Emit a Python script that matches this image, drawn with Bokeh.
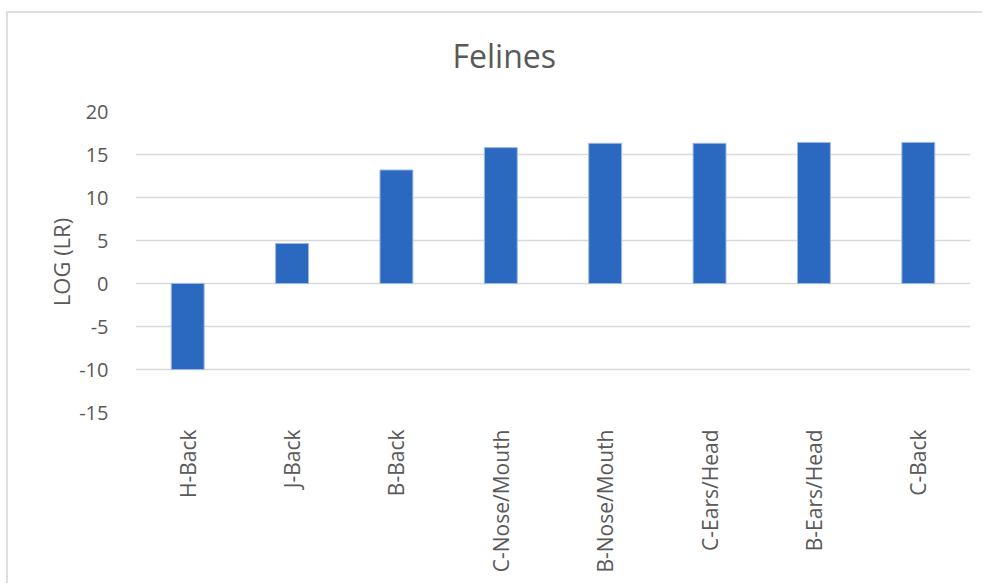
import math

from bokeh.embed import file_html
from bokeh.models import FixedTicker, Title
from bokeh.plotting import figure
from bokeh.resources import INLINE

# Samples and their log likelihood ratios
samples = ["H-Back", "J-Back", "B-Back", "C-Nose/Mouth", "B-Nose/Mouth",
           "C-Ears/Head", "B-Ears/Head", "C-Back"]
log_lr = [-10.0, 4.65, 13.2, 15.8, 16.3, 16.3, 16.4, 16.4]
y_ticks = [-15, -10, -5, 0, 5, 10, 15, 20]

TEXT = "#595959"
FONT = "Open Sans"

p = figure(
    x_range=samples, y_range=(-15, 20),
    width=976, height=572,
    output_backend="svg", toolbar_location=None,
    min_border_left=127, min_border_right=14,
    min_border_top=98, min_border_bottom=173,
    background_fill_color="white", border_fill_color="white",
    outline_line_color=None,
)
p.margin = (11, 0, 0, 6)
p.styles = {"border-top": "2px solid #dedede", "border-left": "2px solid #dedede"}

p.vbar(x=samples, top=log_lr, bottom=0, width=0.315,
       fill_color="#2B68BF", line_color="#9db8e3", line_width=1)

# Chart title, with a blank spacer between it and the plot area
p.add_layout(Title(text=" ", text_font_size="12px", standoff=14), "above")
p.title.text = "Felines"
p.title.align = "left"
p.title.offset = 317
p.title.standoff = 10
p.title.text_font = FONT
p.title.text_font_size = "32px"
p.title.text_font_style = "normal"
p.title.text_color = TEXT

# Axes
p.yaxis.ticker = FixedTicker(ticks=y_ticks)
p.yaxis.major_label_overrides = {t: str(t) for t in y_ticks}
p.yaxis.axis_label = "LOG (LR)"
p.yaxis.axis_label_text_font = FONT
p.yaxis.axis_label_text_font_size = "22px"
p.yaxis.axis_label_text_font_style = "normal"
p.yaxis.axis_label_text_color = TEXT
p.yaxis.axis_label_standoff = 0

for ax in (p.xaxis, p.yaxis):
    ax.axis_line_color = None
    ax.major_tick_line_color = None
    ax.minor_tick_line_color = None
    ax.major_label_text_font = FONT
    ax.major_label_text_color = TEXT

p.yaxis.major_label_text_font_size = "20px"
p.xaxis.major_label_text_font_size = "21px"
p.yaxis.major_label_standoff = 21
p.xaxis.major_label_standoff = 11
p.xaxis.major_label_orientation = math.pi / 2

p.xgrid.grid_line_color = None
p.ygrid.grid_line_color = "#d9d9d9"
p.ygrid.grid_line_width = 1.5

open("out.html", "w").write(file_html(p, INLINE))
